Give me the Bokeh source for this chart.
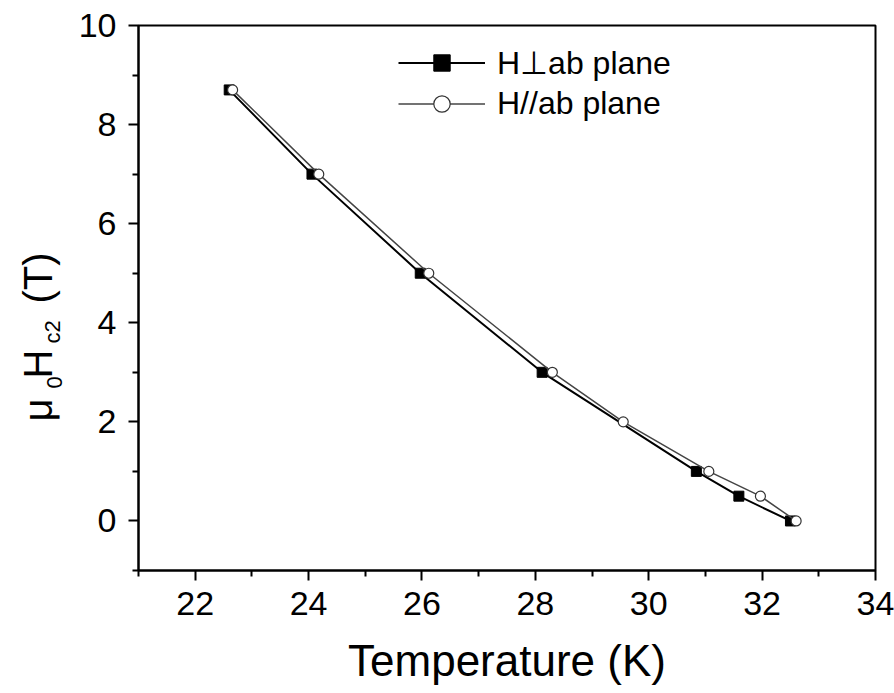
from bokeh.plotting import figure
from bokeh.layouts import row
from bokeh.models import Range1d, FixedTicker, Legend, LegendItem, ColumnDataSource
from bokeh.core.properties import value
from bokeh.embed import file_html
from bokeh.resources import INLINE
import math

# H perpendicular to ab plane (filled squares)
T_perp = [22.60, 24.06, 25.97, 28.12, 30.84, 31.59, 32.50]
H_perp = [8.70, 7.00, 5.00, 3.00, 1.00, 0.50, 0.00]
# H parallel to ab plane (open circles)
T_par = [22.66, 24.18, 26.12, 28.30, 29.55, 31.06, 31.97, 32.60]
H_par = [8.70, 7.00, 5.00, 3.00, 2.00, 1.00, 0.50, 0.00]

x_major = [22, 24, 26, 28, 30, 32, 34]
x_minor = [21, 23, 25, 27, 29, 31, 33]
y_major = [0, 2, 4, 6, 8, 10]
y_minor = [-1, 1, 3, 5, 7, 9]

label_perp = "H\u22a5ab plane"
label_par = "H//ab plane"
x_title = "Temperature (K)"
# y title pieces (mu_0 H_c2 (T)) with their font sizes
y_title_text = ["\u03bc", "0", "H", "c2", "(T)"]
y_title_size = ["40px", "22px", "40px", "22px", "40px"]

FONT = "Liberation Sans"
TITLE_W = 70

y_range = Range1d(-1, 10)

# ---- narrow panel holding the rotated y title (frame is aligned with the main plot) ----
pl = figure(width=TITLE_W, height=693, x_range=Range1d(0, TITLE_W), y_range=y_range,
            x_axis_type=None, y_axis_type=None, output_backend="svg", toolbar_location=None,
            min_border=0, min_border_left=0, min_border_right=0, min_border_top=0, min_border_bottom=0)
pl.outline_line_color = None
pl.grid.visible = False
pl.background_fill_color = "white"
pl.border_fill_color = "white"
ysrc = ColumnDataSource(dict(x=[37, 54, 37, 52, 37], y=[2.007, 2.673, 2.875, 3.582, 4.389],
                             t=y_title_text, fs=y_title_size))
pl.text(x="x", y="y", text="t", text_font_size="fs", source=ysrc, angle=math.pi / 2,
        text_font=value(FONT), text_color="black", text_baseline="alphabetic", text_align="left")

# ---- main plot ----
p = figure(width=894 - TITLE_W, height=693, x_range=Range1d(21, 34), y_range=y_range,
           output_backend="svg", toolbar_location=None,
           min_border_left=138 - TITLE_W, min_border_right=19, min_border_top=25, min_border_bottom=123)
p.background_fill_color = "white"
p.border_fill_color = "white"
p.outline_line_color = "black"
p.outline_line_width = 2
p.grid.visible = False

for ax in (p.xaxis[0], p.yaxis[0]):
    ax.axis_line_width = 2
    ax.axis_line_color = "black"
    ax.major_tick_line_width = 2
    ax.minor_tick_line_width = 2
    ax.major_tick_line_color = "black"
    ax.minor_tick_line_color = "black"
    ax.major_tick_out = 10
    ax.major_tick_in = 0
    ax.minor_tick_out = 6
    ax.minor_tick_in = 0
    ax.major_label_text_font = FONT
    ax.major_label_text_font_size = "34px"
    ax.major_label_text_color = "black"

p.xaxis[0].ticker = FixedTicker(ticks=x_major, minor_ticks=x_minor)
p.yaxis[0].ticker = FixedTicker(ticks=y_major, minor_ticks=y_minor)
p.xaxis[0].major_label_standoff = 11
p.yaxis[0].major_label_standoff = 12
p.xaxis[0].axis_label = x_title
p.xaxis[0].axis_label_text_font = FONT
p.xaxis[0].axis_label_text_font_size = "44px"
p.xaxis[0].axis_label_text_font_style = "normal"
p.xaxis[0].axis_label_text_color = "black"
p.xaxis[0].axis_label_standoff = 18

# lines and markers
l1 = p.line(T_perp, H_perp, line_color="black", line_width=2)
s1 = p.scatter(T_perp, H_perp, marker="square", size=10, fill_color="black", line_color="black")
l2 = p.line(T_par, H_par, line_color="#444444", line_width=1.5)
s2 = p.scatter(T_par, H_par, marker="circle", size=10, fill_color="white", line_color="#333333", line_width=1.2)

legend = Legend(items=[LegendItem(label=label_perp, renderers=[l1, s1]),
                       LegendItem(label=label_par, renderers=[l2, s2])],
                location=(260, 446), border_line_color=None, background_fill_alpha=0,
                padding=0, margin=0, spacing=0, glyph_width=87, glyph_height=41,
                label_height=41, label_standoff=12,
                label_text_font=FONT, label_text_font_size="32px",
                label_text_color="black")
p.add_layout(legend)

layout = row(pl, p, spacing=0)
open("out.html", "w").write(file_html(layout, INLINE))
